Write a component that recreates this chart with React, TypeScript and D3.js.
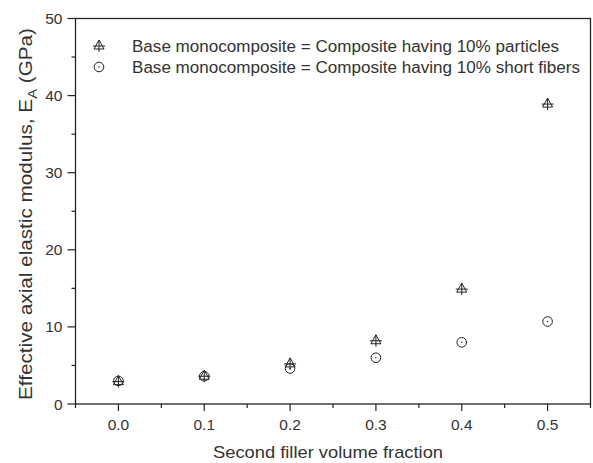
import React from "react";
import * as d3 from "d3";

const xValues = [0.0, 0.1, 0.2, 0.3, 0.4, 0.5];
const particleValues = [2.9, 3.6, 5.2, 8.2, 14.9, 38.9];
const fiberValues = [3.0, 3.6, 4.6, 6.0, 8.0, 10.7];
const xTicks = [0.0, 0.1, 0.2, 0.3, 0.4, 0.5];
const xMinorTicks = [-0.05, 0.05, 0.15, 0.25, 0.35, 0.45, 0.55];
const yTicks = [0, 10, 20, 30, 40, 50];
const yMinorTicks = [5, 15, 25, 35, 45];
const legendLabels = [
  "Base monocomposite = Composite having 10% particles",
  "Base monocomposite = Composite having 10% short fibers",
];
const legendWidths = [427, 448];

const W = 593;
const H = 463;
const L = 75.5, R = 590.5, T = 18.5, B = 404;
const ink = "#222";
const txt = "#333";
const font = "Arial, 'Liberation Sans', sans-serif";

function Tri({ cx, cy }: { cx: number; cy: number }) {
  const s = 5;
  return (
    <g stroke={ink} strokeWidth={1} fill="none">
      <path d={`M${cx},${cy - s - 1} L${cx + s},${cy + s - 2} L${cx - s},${cy + s - 2} Z`} />
      <line x1={cx} x2={cx} y1={cy - s - 1} y2={cy + s + 1} />
      <line x1={cx - s - 1} x2={cx + s + 1} y1={cy} y2={cy} />
    </g>
  );
}

function Circ({ cx, cy }: { cx: number; cy: number }) {
  return (
    <g>
      <circle cx={cx} cy={cy} r={4.8} stroke={ink} strokeWidth={1} fill="none" />
      <circle cx={cx} cy={cy} r={0.7} fill={ink} />
    </g>
  );
}

export default function App() {
  const x = d3.scaleLinear().domain([-0.05, 0.55]).range([L, R]);
  const y = d3.scaleLinear().domain([0, 50]).range([B, T]);
  return (
    <svg width={W} height={H} style={{ position: "absolute", left: 0, top: 0, background: "#fff" }}>
      <rect x={0} y={0} width={W} height={H} fill="#fff" />
      <rect x={L} y={T} width={R - L} height={B - T} fill="none" stroke={ink} strokeWidth={1.3} />
      {xTicks.map((t) => (
        <g key={"xt" + t}>
          <line x1={x(t)} x2={x(t)} y1={B} y2={B + 7} stroke={ink} strokeWidth={1.2} />
          <text x={x(t)} y={B + 25.5} textAnchor="middle" fontFamily={font} fontSize={15.5} fill={txt}>
            {d3.format(".1f")(t)}
          </text>
        </g>
      ))}
      {xMinorTicks.map((t) => (
        <line key={"xm" + t} x1={x(t)} x2={x(t)} y1={B} y2={B + 4} stroke={ink} strokeWidth={1.2} />
      ))}
      {yTicks.map((t) => (
        <g key={"yt" + t}>
          <line x1={L - 8} x2={L} y1={y(t)} y2={y(t)} stroke={ink} strokeWidth={1.2} />
          <text x={L - 13} y={y(t) + 5.5} textAnchor="end" fontFamily={font} fontSize={15.5} fill={txt}>
            {t}
          </text>
        </g>
      ))}
      {yMinorTicks.map((t) => (
        <line key={"ym" + t} x1={L - 4} x2={L} y1={y(t)} y2={y(t)} stroke={ink} strokeWidth={1.2} />
      ))}
      <text
        x={328}
        y={458}
        textAnchor="middle"
        fontFamily={font}
        fontSize={17}
        fill={txt}
        textLength={230}
        lengthAdjust="spacingAndGlyphs"
      >
        Second filler volume fraction
      </text>
      <text
        transform={`translate(32, 214) rotate(-90)`}
        textAnchor="middle"
        fontFamily={font}
        fontSize={17.5}
        fill={txt}
        textLength={372}
        lengthAdjust="spacingAndGlyphs"
      >
        Effective axial elastic modulus, E<tspan fontSize={12.5} dy={5}>A</tspan>
        <tspan dy={-5}> (GPa)</tspan>
      </text>
      {xValues.map((v, i) => (
        <Tri key={"p" + i} cx={x(v)} cy={y(particleValues[i])} />
      ))}
      {xValues.map((v, i) => (
        <Circ key={"f" + i} cx={x(v)} cy={y(fiberValues[i])} />
      ))}
      <Tri cx={99} cy={46} />
      <Circ cx={99} cy={67} />
      {legendLabels.map((s, i) => (
        <text
          key={"lg" + i}
          x={132}
          y={52 + i * 21}
          fontFamily={font}
          fontSize={16}
          fill={txt}
          textLength={legendWidths[i]}
          lengthAdjust="spacingAndGlyphs"
        >
          {s}
        </text>
      ))}
    </svg>
  );
}
